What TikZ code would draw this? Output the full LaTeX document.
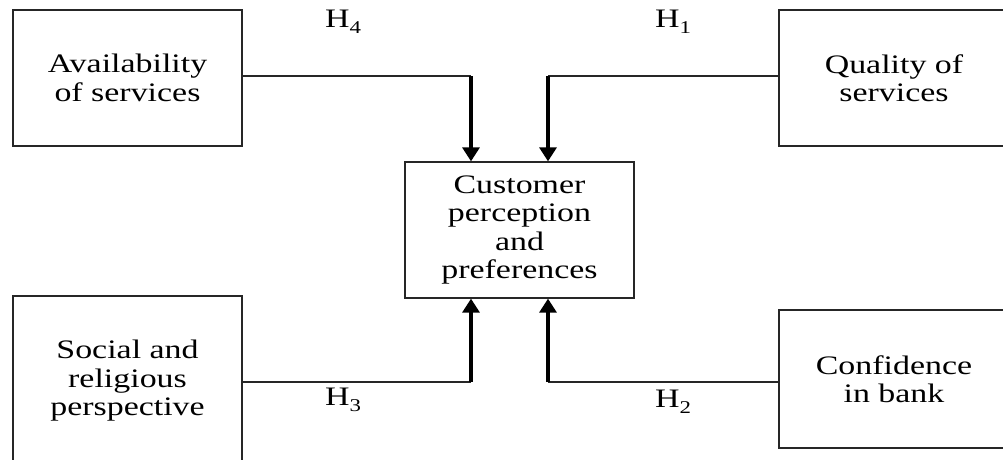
\documentclass[tikz,border=0pt]{standalone}
\usepackage{fontspec}
\setmainfont[FakeStretch=1.27]{Liberation Serif}
\usetikzlibrary{arrows.meta}
\tikzset{
  box/.style={draw=black!85, line width=1.3pt, rectangle, inner sep=0pt, align=center,
    font=\fontsize{26.7}{28.5}\selectfont},
  thinline/.style={draw=black!85, line width=1.2pt},
  thickarrow/.style={line width=3.2pt, -{Triangle[width=17pt,length=14pt]}},
  hlabel/.style={font=\fontsize{26.7}{28}\selectfont, inner sep=0pt}
}
\newcommand{\hyp}[1]{H\raisebox{-0.22em}{\fontsize{18}{18}\selectfont #1}}
\begin{document}
\begin{tikzpicture}[x=1pt,y=-1pt]
\useasboundingbox (0,0) rectangle (1003,460);
\clip (0,0) rectangle (1003,460);
\fill[white] (0,0) rectangle (1003,460);
\node[box, minimum width=229pt, minimum height=136pt] (avail) at (127.5,78) {Availability\\of services};
\node[box, minimum width=230pt, minimum height=136pt] (qual) at (894,78) {Quality of\\services};
\node[box, minimum width=229pt, minimum height=170pt] (soc) at (127.5,381) {Social and\\religious\\perspective};
\node[box, minimum width=230pt, minimum height=138pt] (conf) at (894,379) {Confidence\\in bank};
\node[box, minimum width=229pt, minimum height=136pt] (cust) at (519.5,230) {Customer\\perception\\and\\preferences};
\coordinate (c4) at (471,76);
\coordinate (c1) at (548,76);
\coordinate (c3) at (471,382);
\coordinate (c2) at (548,382);
\draw[thinline] (avail.east |- c4) -- (c4);
\draw[thinline] (qual.west |- c1) -- (c1);
\draw[thinline] (soc.east |- c3) -- (c3);
\draw[thinline] (conf.west |- c2) -- (c2);
\draw[thickarrow] (c4) -- (c4 |- cust.north);
\draw[thickarrow] (c1) -- (c1 |- cust.north);
\draw[thickarrow] (c3) -- (c3 |- cust.south);
\draw[thickarrow] (c2) -- (c2 |- cust.south);
\node[hlabel] (h4) at (343,22) {\hyp{4}};
\node[hlabel] (h1) at (673,22) {\hyp{1}};
\node[hlabel] (h3) at (343,400) {\hyp{3}};
\node[hlabel] (h2) at (673,402) {\hyp{2}};
\end{tikzpicture}
\end{document}
